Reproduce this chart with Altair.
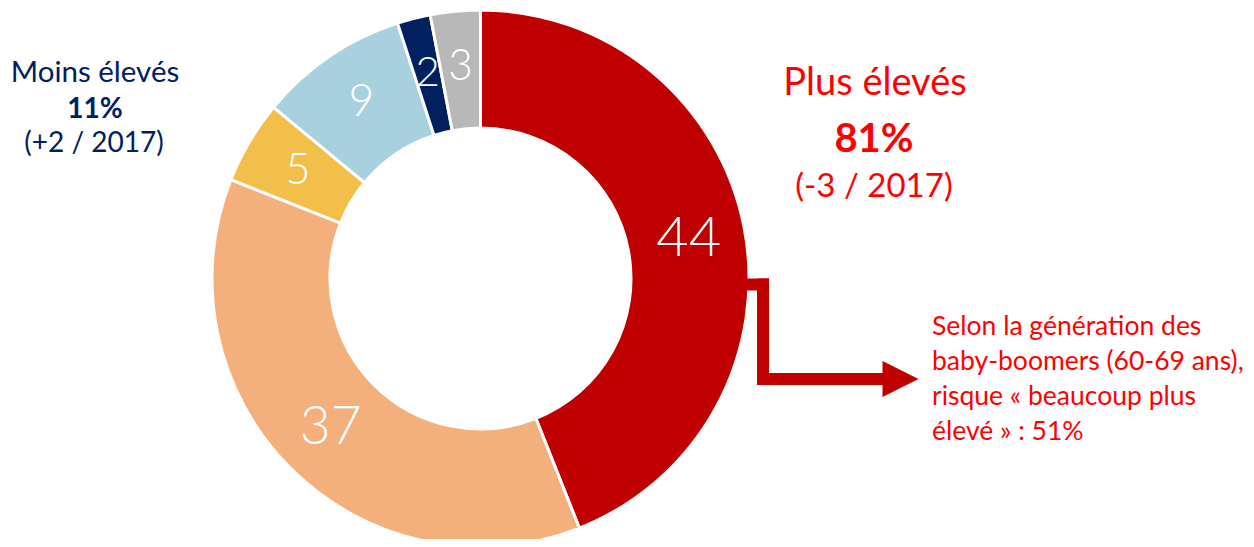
import altair as alt
import pandas as pd

# ---- data ----
categories = ["Beaucoup plus élevés", "Un peu plus élevés", "Ni plus ni moins",
              "Un peu moins élevés", "Beaucoup moins élevés", "Ne sait pas"]
values = [44, 37, 5, 9, 2, 3]
colors = ["#C00000", "#F3AF7C", "#F2BF4B", "#A8D0DF", "#002060", "#B8B8B8"]

plus_lines = ["Plus élevés", "81%", "(-3 / 2017)"]
moins_lines = ["Moins élevés", "11%", "(+2 / 2017)"]
note_lines = ["Selon la génération des", "baby-boomers (60-69 ans),",
              "risque « beaucoup plus", "élevé » : 51%"]

df = pd.DataFrame({"cat": categories, "value": values, "idx": list(range(len(values)))})

FONT = "Lato"
CX, CY = 472.5, 270.5
RED = "#FF0000"
DARK = "#C00000"
NAVY = "#002060"

arc = alt.Chart(df).mark_arc(radius=268.5, radius2=150.5, stroke="white", strokeWidth=3).encode(
    theta=alt.Theta("value:Q", stack=True),
    order=alt.Order("idx:Q"),
    color=alt.Color("cat:N", scale=alt.Scale(domain=categories, range=colors), legend=None),
    x=alt.value(CX), y=alt.value(CY),
)

labels = alt.Chart(df).mark_text(radius=212, font=FONT, fontWeight=300, color="white",
                                 baseline="middle", align="center").encode(
    theta=alt.Theta("value:Q", stack=True),
    order=alt.Order("idx:Q"),
    text=alt.Text("value:Q"),
    size=alt.Size("value:Q", scale=alt.Scale(domain=[2, 44], range=[42, 56]), legend=None),
    x=alt.value(CX), y=alt.value(CY),
)


def line_text(txt, x, y, size, color, bold=False, align="center"):
    return alt.Chart(pd.DataFrame({"t": [txt]})).mark_text(
        font=FONT, fontSize=size, color=color, fontWeight="bold" if bold else "normal",
        align=align, baseline="alphabetic",
    ).encode(text="t:N", x=alt.value(x), y=alt.value(y))


texts = [
    line_text(plus_lines[0], 867, 87, 38, RED),
    line_text(plus_lines[1], 866, 144, 40, RED, bold=True),
    line_text(plus_lines[2], 866, 189, 33, RED),
    line_text(moins_lines[0], 87, 74, 29.5, NAVY),
    line_text(moins_lines[1], 87, 110, 28, NAVY, bold=True),
    line_text(moins_lines[2], 86, 144, 28, NAVY),
]
for i, ln in enumerate(note_lines):
    texts.append(line_text(ln, 924, 327 + 35 * i, 26.5, RED, align="left"))

one = pd.DataFrame({"k": [0]})


def seg(x1, x2, y1, y2):
    return alt.Chart(one).mark_rule(color=DARK, strokeWidth=12, strokeCap="square").encode(
        x=alt.value(x1), x2=alt.value(x2), y=alt.value(y1), y2=alt.value(y2))


arrow = [
    seg(755, 755, 276.5, 371),
    seg(755, 878, 371, 371),
    alt.Chart(one).mark_point(shape="M-1,-1L1,0L-1,1Z", filled=True, opacity=1, color=DARK,
                              size=1300, strokeWidth=0).encode(
        x=alt.value(892.5), y=alt.value(371)),
]
stub = seg(741, 755, 276.5, 276.5)

chart = alt.layer(*arrow, arc, stub, labels, *texts).properties(
    width=1238, height=531, padding=0, autosize=alt.AutoSizeParams(type="none")
).configure_view(stroke=None)

chart.save("out.html", embed_options={"renderer": "svg", "actions": False})
